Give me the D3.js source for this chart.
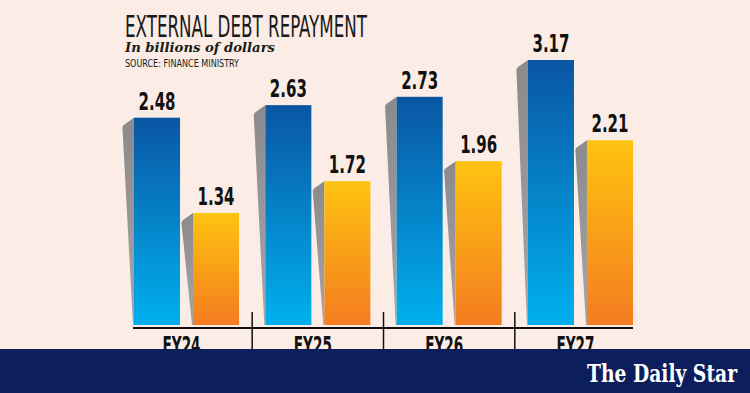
<html>
<head>
  <style>
    body { margin: 0; background: #fbede5; }
    svg { display: block; }
    .title { font-family: 'Liberation Sans Narrow', 'DejaVu Sans Condensed', sans-serif; font-size: 30px; fill: #1a1a1a; }
    .sub { font-family: 'DejaVu Serif', serif; font-weight: bold; font-style: italic; font-size: 13px; fill: #1a1a1a; }
    .src { font-family: 'Liberation Sans Narrow', 'DejaVu Sans Condensed', sans-serif; font-size: 11px; fill: #1a1a1a; }
    .val { font-family: 'Liberation Sans Narrow', 'DejaVu Sans Condensed', sans-serif; font-weight: bold; font-size: 25px; fill: #111; }
    .yr { font-family: 'Liberation Sans Narrow', 'DejaVu Sans Condensed', sans-serif; font-weight: bold; font-size: 24px; fill: #111; }
    .logo { font-family: 'DejaVu Serif', serif; font-weight: bold; font-size: 24px; fill: #fff; }
  </style>
</head>
<body>
  <div id="chart"></div>
  <script src="https://d3js.org/d3.v7.min.js"></script>
  <script>
  const years = ["FY24", "FY25", "FY26", "FY27"];
  const blueValues = [2.48, 2.63, 2.73, 3.17];
  const orangeValues = [1.34, 1.72, 1.96, 2.21];
  const labels = ["2.48", "2.63", "2.73", "3.17", "1.34", "1.72", "1.96", "2.21"];

  const width = 750, height = 393;

  const svg = d3.select("#chart")
    .append("svg")
      .attr("width", width)
      .attr("height", height);

  svg.append("rect").attr("width", width).attr("height", height).attr("fill", "#fbede5");

  const defs = svg.append("defs");
  const grad = (id, top, bottom) => {
    const g = defs.append("linearGradient").attr("id", id)
      .attr("x1", 0).attr("y1", 0).attr("x2", 0).attr("y2", 1);
    g.append("stop").attr("offset", "0%").attr("stop-color", top);
    g.append("stop").attr("offset", "100%").attr("stop-color", bottom);
  };
  grad("gBlue", "#0a56a3", "#00b0ee");
  grad("gOrange", "#fec310", "#f47c20");
  grad("gShadow", "#8a8a8c", "#a6a6a8");

  const x = d3.scaleBand()
    .domain(years)
    .range([134, 633])
    .paddingInner(0.2)
    .paddingOuter(0);

  const xs = d3.scaleBand()
    .domain(["blue", "orange"])
    .range([0, x.bandwidth()])
    .paddingInner(0.22);

  const y = d3.scaleLinear()
    .domain([0, 3.17])
    .range([325, 60]);

  const rows = [];
  years.forEach((yr, i) => {
    rows.push({year: yr, s: "blue", v: blueValues[i], label: labels[i]});
    rows.push({year: yr, s: "orange", v: orangeValues[i], label: labels[i + 4]});
  });

  const bar = svg.selectAll("g.bar")
    .data(rows)
    .join("g")
      .attr("class", "bar");

  //shadow sits behind on the left, narrowing to the base
  bar.append("path")
    .attr("fill", "url(#gShadow)")
    .attr("d", d => {
      const bx = x(d.year) + xs(d.s), top = y(d.v), bot = y(0);
      return `M${bx},${top} L${bx - 10},${top + 7} Q${bx - 12},${top + 9} ${bx - 11.5},${top + 11} L${bx - 1},${bot} L${bx},${bot} Z`;
    });

  bar.append("rect")
    .attr("x", d => x(d.year) + xs(d.s))
    .attr("y", d => y(d.v))
    .attr("width", xs.bandwidth())
    .attr("height", d => y(0) - y(d.v))
    .attr("fill", d => d.s === "blue" ? "url(#gBlue)" : "url(#gOrange)");

  bar.append("text")
    .attr("class", "val")
    .attr("x", d => x(d.year) + xs(d.s) + xs.bandwidth() / 2)
    .attr("y", d => y(d.v) - 8)
    .attr("text-anchor", "middle")
    .attr("textLength", 37).attr("lengthAdjust", "spacingAndGlyphs")
    .text(d => d.label);

  // axis line and separators
  svg.append("line")
    .attr("x1", 133).attr("x2", 633)
    .attr("y1", 328).attr("y2", 328)
    .attr("stroke", "#111").attr("stroke-width", 2);

  svg.selectAll("line.sep")
    .data(years.slice(1))
    .join("line")
      .attr("class", "sep")
      .attr("x1", d => x(d) - x.step() * x.paddingInner() / 2)
      .attr("x2", d => x(d) - x.step() * x.paddingInner() / 2)
      .attr("y1", 312).attr("y2", 350)
      .attr("stroke", "#111").attr("stroke-width", 1.5);

  svg.selectAll("text.yr")
    .data(years)
    .join("text")
      .attr("class", "yr")
      .attr("x", d => x(d) + x.bandwidth() / 2 - 5)
      .attr("y", 354)
      .attr("text-anchor", "middle")
      .attr("textLength", 38).attr("lengthAdjust", "spacingAndGlyphs")
      .text(d => d);

  // titles
  svg.append("text").attr("class", "title")
    .attr("x", 125).attr("y", 37)
    .attr("textLength", 242).attr("lengthAdjust", "spacingAndGlyphs")
    .text("EXTERNAL DEBT REPAYMENT");
  svg.append("text").attr("class", "sub")
    .attr("x", 125).attr("y", 52)
    .attr("textLength", 150).attr("lengthAdjust", "spacingAndGlyphs")
    .text("In billions of dollars");
  svg.append("text").attr("class", "src")
    .attr("x", 125).attr("y", 67)
    .attr("textLength", 114).attr("lengthAdjust", "spacingAndGlyphs")
    .text("SOURCE: FINANCE MINISTRY");

  // footer band
  svg.append("rect")
    .attr("x", 0).attr("y", 349)
    .attr("width", width).attr("height", height - 349)
    .attr("fill", "#0c1e5b");
  svg.append("text").attr("class", "logo")
    .attr("x", 737).attr("y", 382)
    .attr("text-anchor", "end")
    .attr("textLength", 150).attr("lengthAdjust", "spacingAndGlyphs")
    .text("The Daily Star");
  </script>
</body>
</html>
